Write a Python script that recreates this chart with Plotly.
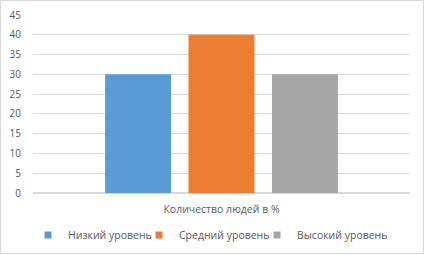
import plotly.graph_objects as go

categories = ["Количество людей в %"]
series_names = ["Низкий уровень", "Средний уровень", "Высокий уровень"]
series_values = [[30], [40], [30]]
colors = ["#5b9bd5", "#ed7d31", "#a5a5a5"]
y_ticks = [0, 5, 10, 15, 20, 25, 30, 35, 40, 45]

W, H = 425, 255
ml, mr, mt, mb = 33, 15, 15, 62
legend_ids = ["legend", "legend2", "legend3"]
legend_left_px = [28, 139, 257]

fig = go.Figure()
for name, vals, c in zip(series_names, series_values, colors):
    fig.add_trace(go.Bar(x=categories, y=vals, name=name, marker_color=c,
                         marker_line_width=0, showlegend=False, legendgroup=name))
for name, c, lid in zip(series_names, colors, legend_ids):
    fig.add_trace(go.Scatter(x=[None], y=[None], mode="markers", name=name,
                             legendgroup=name, legend=lid,
                             marker=dict(symbol="square", size=7, color=c)))

pw = W - ml - mr
ph = H - mt - mb


def px_x(p):
    return (p - ml) / pw


def px_y(p):
    return (H - p - mb) / ph


fig.add_shape(type="rect", xref="paper", yref="paper",
              x0=px_x(0.5), x1=px_x(W - 1.5), y0=px_y(H - 1.5), y1=px_y(0.5),
              line=dict(color="#d9d9d9", width=1), layer="below")

legend_style = dict(orientation="h", xref="container", yref="container",
                    xanchor="left", y=1 - 235 / H, yanchor="middle",
                    font=dict(size=10.5, color="#595959"), itemwidth=30,
                    bgcolor="rgba(0,0,0,0)", borderwidth=0)
legends = {lid: dict(legend_style, x=lx / W) for lid, lx in zip(legend_ids, legend_left_px)}

fig.update_layout(
    width=W, height=H,
    margin=dict(l=ml, r=mr, t=mt, b=mb, autoexpand=False),
    paper_bgcolor="white", plot_bgcolor="white",
    barmode="group", bargap=0.336, bargroupgap=0.21,
    font=dict(family="Open Sans", size=10, color="#595959"),
    showlegend=True,
    xaxis=dict(showgrid=False, showline=False, ticks="", ticklabelstandoff=8,
               tickfont=dict(size=10.5, color="#595959")),
    yaxis=dict(range=[0, 45], tickvals=y_ticks, showgrid=True, gridcolor="#d9d9d9",
               gridwidth=1, zeroline=True, zerolinecolor="#d9d9d9", showline=False,
               ticks="", ticklabelstandoff=11, tickfont=dict(size=10, color="#595959")),
    **legends,
)

fig.write_html("out.html", config={"displayModeBar": False},
               post_script="document.body.style.margin='0';document.body.style.overflow='hidden';")
